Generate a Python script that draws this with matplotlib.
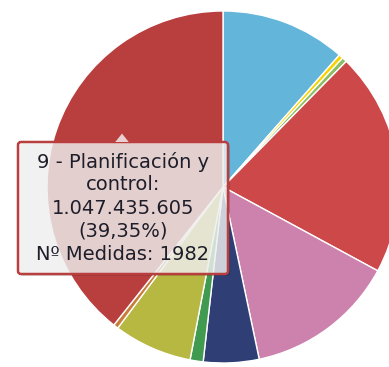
import matplotlib

matplotlib.use("Agg")

import matplotlib.pyplot as plt
from matplotlib.patches import FancyBboxPatch, Polygon

# share of each line of action (%), clockwise from 12 o'clock
shares = [11.5, 0.4, 0.45, 20.55, 13.8, 5.1, 1.2, 7.2, 0.45, 39.35]
colors = [
    "#63b5da", "#f6d300", "#8dbf62", "#cc4849", "#cd82ad",
    "#2f3f75", "#409a4f", "#b6b841", "#c87d3a", "#b93e3e",
]

# hovered slice (last one)
tip_name = "9 - Planificación y\ncontrol:"
tip_amount = 1047435605
tip_share = 39.35
tip_measures = 1982

W, H = 389, 367
fig = plt.figure(figsize=(W / 100, H / 100), dpi=100)
ax = fig.add_axes([0, 0, 1, 1])
ax.set_xlim(0, W)
ax.set_ylim(0, H)
ax.set_aspect("equal")
ax.axis("off")

ax.pie(
    shares,
    colors=colors,
    center=(223, H - 187),
    radius=176,
    startangle=90,
    counterclock=False,
    wedgeprops=dict(edgecolor="white", linewidth=1.0, antialiased=True),
)
ax.set_xlim(0, W)
ax.set_ylim(0, H)


def es_number(n):
    return f"{n:,}".replace(",", ".")


# tooltip box
x0, x1 = 18, 228
y_top, y_bot = H - 142, H - 274
border = colors[-1]

shadow = FancyBboxPatch(
    (x0 + 2, y_bot - 2), x1 - x0, y_top - y_bot,
    boxstyle="round,pad=0,rounding_size=3",
    facecolor=(0, 0, 0, 0.14), edgecolor="none", zorder=5,
)
ax.add_patch(shadow)
box = FancyBboxPatch(
    (x0, y_bot), x1 - x0, y_top - y_bot,
    boxstyle="round,pad=0,rounding_size=3",
    facecolor=(0.97, 0.97, 0.97, 0.8), edgecolor=border, linewidth=1.8, zorder=6,
)
ax.add_patch(box)

# pointer on top of the box
px = 122
pointer = Polygon(
    [(px - 8, y_top), (px, y_top + 10), (px + 8, y_top)],
    closed=True, facecolor=(0.97, 0.97, 0.97, 0.8), edgecolor="none", zorder=7,
)
ax.add_patch(pointer)
ax.plot([px - 8, px, px + 8], [y_top, y_top + 10, y_top],
        color=border, linewidth=1.4, zorder=7, solid_joinstyle="miter")

lines = [
    *tip_name.split("\n"),
    es_number(tip_amount),
    f"({tip_share:.2f}%)".replace(".", ","),
    f"Nº Medidas: {tip_measures}",
]
cx = (x0 + x1) / 2
for i, line in enumerate(lines):
    ax.text(cx, H - 162 - 23 * i, line, ha="center", va="center",
            fontsize=14, color="#1e1e2a", family="DejaVu Sans", zorder=8)

fig.savefig("out.png", dpi=100)
